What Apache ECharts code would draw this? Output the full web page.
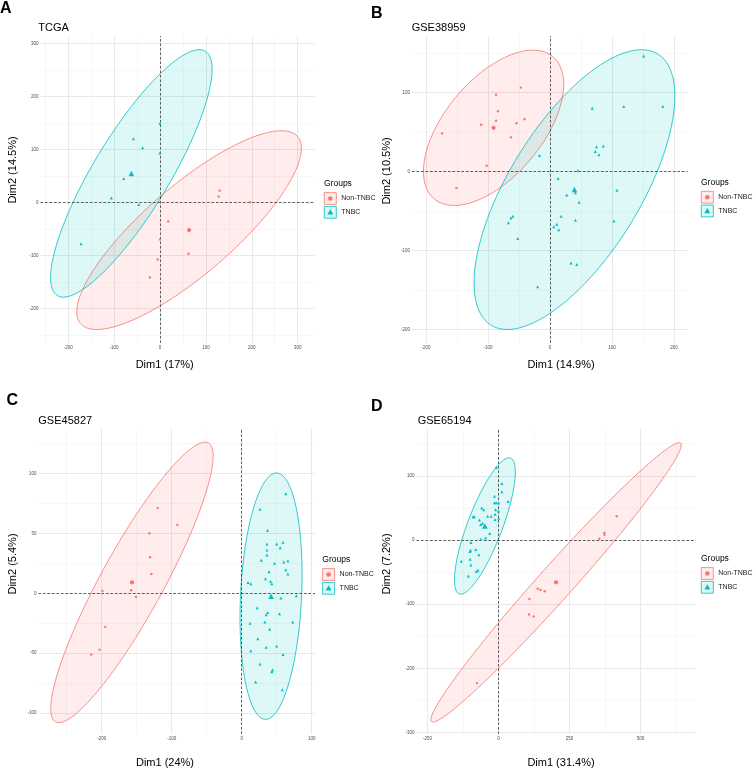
<!DOCTYPE html>
<html>
<head>
<meta charset="utf-8">
<script src="https://cdn.jsdelivr.net/npm/echarts@6/dist/echarts.min.js"></script>
<style>html,body{margin:0;padding:0;background:#fff}#chart{width:753px;height:770px}</style>
</head>
<body>
<div id="chart"></div>
<script>
// ---------------- DATA ----------------
const groupNames = ['Non-TNBC', 'TNBC'];
const panelLetters = ['A', 'B', 'C', 'D'];
const datasetTitles = ['TCGA', 'GSE38959', 'GSE45827', 'GSE65194'];
const dim1Names = ['Dim1 (17%)', 'Dim1 (14.9%)', 'Dim1 (24%)', 'Dim1 (31.4%)'];
const dim2Names = ['Dim2 (14.5%)', 'Dim2 (10.5%)', 'Dim2 (5.4%)', 'Dim2 (7.2%)'];

// TCGA
const tcgaNonTNBC = [[130,22],[128,11],[196,0],[18,-36],[0,-70],[62,-97],[-5,-108],[-22,-142]];
const tcgaTNBC = [[0,149],[-58,120],[-38,103],[0,93],[-79,45],[-106,8],[-46,-4],[-172,-78]];
const tcgaXTicks = [-200,-100,0,100,200,300];
const tcgaYTicks = [-200,-100,0,100,200,300];

// GSE38959
const gse38959NonTNBC = [[-47,106],[-87,97],[-84,76],[-41,66],[-87,64],[-111,59],[-54,61],[-174,48],[-63,43],[-102,7],[-151,-21],[-91,55]];
const gse38959TNBC = [[151,146],[68,80],[119,82],[182,82],[86,32],[75,31],[73,25],[79,21],[-17,20],[45,1],[13,-9],[41,-27],[108,-24],[27,-30],[47,-39],[18,-57],[41,-62],[103,-63],[-60,-57],[-63,-59],[-67,-65],[11,-67],[6,-70],[14,-74],[-52,-85],[34,-116],[43,-118],[-20,-146]];
const gse38959XTicks = [-200,-100,0,100,200];
const gse38959YTicks = [-200,-100,0,100];

// GSE45827
const gse45827NonTNBC = [[-120,71],[-92,57],[-132,50],[-131,30],[-129,16],[-199,2],[-158,2.5],[-151,-3],[-195,-28],[-203,-47],[-215,-51]];
const gse45827TNBC = [[63,83],[26,70],[37,52.5],[36,41],[50,41],[59,42.5],[55,38],[36,36],[36,32],[28,27.5],[47,25],[60,26],[66,27],[63,19.5],[66,16],[39,18],[34,12],[41,10],[43,8],[9,9],[13,8],[78,-2],[56,-4],[22,-12],[37,-16],[35,-18],[54,-17],[73,-24],[12,-25],[33,-24],[40,-30],[23,-38],[35,-45],[50,-44],[13,-48],[59,-51],[26,-59],[44,-64],[43,-65.5],[20,-74],[58,-80.5]];
const gse45827XTicks = [-200,-100,0,100];
const gse45827YTicks = [-100,-50,0,50,100];

// GSE65194
const gse65194NonTNBC = [[416,37],[373,11],[373,8],[355,2],[138,-76],[148,-78],[163,-80],[109,-92],[108,-116],[124,-119],[-76,-223]];
const gse65194TNBC = [[-8,113],[12,88],[12,75],[34,60],[-14,68],[-14,58],[-8,58],[0,58],[-59,50],[-52,47],[-10,47],[0,45],[-12,40],[-90,36],[-85,36],[-38,37],[-26,37],[1,34],[-67,31],[-12,32],[-56,26],[-63,24],[-31,10],[-45,3],[-63,1],[-97,-4],[-80,-15],[-98,-16],[-101,-18],[-69,-23],[-100,-30],[-131,-33],[-97,-39],[-72,-47],[-78,-49],[-106,-56]];
const gse65194XTicks = [-250,0,250,500];
const gse65194YTicks = [-300,-200,-100,0,100];

// ---------------- LAYOUT / STYLE ----------------
const RED = '#F8766D', TEAL = '#00BFC4';
const RED_FILL = 'rgba(248,118,109,0.13)', TEAL_FILL = 'rgba(0,191,196,0.13)';
const FONT = '"Liberation Sans", Arial, Helvetica, sans-serif';
const ELLIPSE_LEVEL = 0.95;

const panels = [
  {non: tcgaNonTNBC, tnbc: tcgaTNBC, xTicks: tcgaXTicks, yTicks: tcgaYTicks,
   xRange: [-260.3, 337.7], yRange: [-265.5, 313.8],
   grid: {left: 40.5, top: 36, width: 274.5, height: 307},
   letterPos: [0, 8.5], titlePos: [38.3, 27.5], xNamePos: [164.7, 365], yNamePos: [13.3, 170], legendPos: [324, 184]},
  {non: gse38959NonTNBC, tnbc: gse38959TNBC, xTicks: gse38959XTicks, yTicks: gse38959YTicks,
   xRange: [-222.6, 222.1], yRange: [-217.3, 171.3],
   grid: {left: 412, top: 36, width: 275.7, height: 307},
   letterPos: [371, 14], titlePos: [411.7, 27.5], xNamePos: [561, 365], yNamePos: [386.5, 171], legendPos: [701, 182.7]},
  {non: gse45827NonTNBC, tnbc: gse45827TNBC, xTicks: gse45827XTicks, yTicks: gse45827YTicks,
   xRange: [-290.3, 104.7], yRange: [-117.3, 137.5],
   grid: {left: 38.5, top: 428.3, width: 276.5, height: 305.7},
   letterPos: [6.5, 401], titlePos: [38.3, 420.8], xNamePos: [165, 763], yNamePos: [13.3, 564], legendPos: [322.3, 560]},
  {non: gse65194NonTNBC, tnbc: gse65194TNBC, xTicks: gse65194XTicks, yTicks: gse65194YTicks,
   xRange: [-288.7, 693], yRange: [-302.3, 174],
   grid: {left: 416.5, top: 428.3, width: 278.8, height: 305.7},
   letterPos: [371, 406.5], titlePos: [417.7, 420.8], xNamePos: [561, 763], yNamePos: [386.5, 564], legendPos: [701, 559]}
];

// ---------------- HELPERS ----------------
function meanPoint(pts) {
  let sx = 0, sy = 0;
  pts.forEach(p => { sx += p[0]; sy += p[1]; });
  return [sx / pts.length, sy / pts.length];
}
// F quantile with 2 numerator df (closed form)
function qf2(p, d) { return d / 2 * (Math.pow(1 - p, -2 / d) - 1); }
// normal-data ellipse as in ggplot2 stat_ellipse(type = "norm")
function dataEllipse(pts, level) {
  const n = pts.length;
  const c = meanPoint(pts);
  let sxx = 0, syy = 0, sxy = 0;
  pts.forEach(p => {
    const dx = p[0] - c[0], dy = p[1] - c[1];
    sxx += dx * dx; syy += dy * dy; sxy += dx * dy;
  });
  sxx /= (n - 1); syy /= (n - 1); sxy /= (n - 1);
  const a = Math.sqrt(sxx), b = sxy / a, cc = Math.sqrt(Math.max(syy - b * b, 0));
  const r = Math.sqrt(2 * qf2(level, n - 1));
  const out = [];
  const seg = 120;
  for (let i = 0; i <= seg; i++) {
    const t = 2 * Math.PI * i / seg;
    const u = Math.cos(t), v = Math.sin(t);
    out.push([c[0] + r * u * a, c[1] + r * (u * b + v * cc)]);
  }
  return out;
}
function minorLines(ticks, range) {
  const step = ticks[1] - ticks[0];
  const out = [];
  const vals = [ticks[0] - step / 2];
  for (let i = 0; i < ticks.length - 1; i++) vals.push((ticks[i] + ticks[i + 1]) / 2);
  vals.push(ticks[ticks.length - 1] + step / 2);
  vals.forEach(v => { if (v >= range[0] && v <= range[1]) out.push(v); });
  return out;
}

// ---------------- BUILD OPTION ----------------
const grids = [], xAxes = [], yAxes = [], series = [], graphics = [];

panels.forEach((P, i) => {
  grids.push({left: P.grid.left, top: P.grid.top, width: P.grid.width, height: P.grid.height, containLabel: false, show: false});
  const axisCommon = {
    type: 'value', gridIndex: i,
    splitLine: {show: false},
    axisLine: {show: false},
    minorTick: {show: false},
  };
  xAxes.push(Object.assign({}, axisCommon, {
    min: P.xRange[0], max: P.xRange[1],
    axisTick: {show: true, length: 1.5, lineStyle: {color: '#333', width: 0.5}, customValues: P.xTicks},
    axisLabel: {show: true, customValues: P.xTicks, fontSize: 4.5, color: '#4d4d4d', margin: 2, fontFamily: FONT}
  }));
  yAxes.push(Object.assign({}, axisCommon, {
    min: P.yRange[0], max: P.yRange[1],
    axisTick: {show: true, length: 1.5, lineStyle: {color: '#333', width: 0.5}, customValues: P.yTicks},
    axisLabel: {show: true, customValues: P.yTicks, fontSize: 4.5, color: '#4d4d4d', margin: 2, fontFamily: FONT}
  }));

  // gridlines (major + minor) via markLine in data coordinates
  const gl = [];
  minorLines(P.xTicks, P.xRange).forEach(v => gl.push({xAxis: v, lineStyle: {color: '#F2F2F2', width: 0.6, type: 'solid'}}));
  minorLines(P.yTicks, P.yRange).forEach(v => gl.push({yAxis: v, lineStyle: {color: '#F2F2F2', width: 0.6, type: 'solid'}}));
  P.xTicks.forEach(v => gl.push({xAxis: v, lineStyle: {color: '#E6E6E6', width: 0.9, type: 'solid'}}));
  P.yTicks.forEach(v => gl.push({yAxis: v, lineStyle: {color: '#E6E6E6', width: 0.9, type: 'solid'}}));
  series.push({
    type: 'line', xAxisIndex: i, yAxisIndex: i, data: [], silent: true, z: 1,
    markLine: {silent: true, symbol: ['none', 'none'], z: 1, animation: false,
      label: {show: false}, emphasis: {disabled: true},
      lineStyle: {type: 'solid'}, data: gl}
  });

  // ellipses
  const groupsData = [
    {pts: P.non, color: RED, fill: RED_FILL, symbol: 'circle', size: 2.4, csize: 4.2, name: groupNames[0]},
    {pts: P.tnbc, color: TEAL, fill: TEAL_FILL, symbol: 'triangle', size: 3, csize: 5.5, name: groupNames[1]}
  ];
  groupsData.forEach((g, gi) => {
    const ell = dataEllipse(g.pts, ELLIPSE_LEVEL);
    series.push({
      type: 'custom', name: g.name, xAxisIndex: i, yAxisIndex: i, z: 2 + gi * 0.1, silent: true, clip: true,
      data: [meanPoint(g.pts)],
      renderItem: function (params, api) {
        return {
          type: 'polygon',
          shape: {points: ell.map(p => api.coord(p))},
          style: {fill: g.fill, stroke: g.color, lineWidth: 0.8}
        };
      }
    });
  });

  // zero dashed lines
  series.push({
    type: 'line', xAxisIndex: i, yAxisIndex: i, data: [], silent: true, z: 3,
    markLine: {silent: true, symbol: ['none', 'none'], z: 3, animation: false,
      label: {show: false}, emphasis: {disabled: true},
      lineStyle: {color: '#222', width: 0.7, type: [2.5, 2]},
      data: [{xAxis: 0}, {yAxis: 0}]}
  });

  // points + group means
  groupsData.forEach(g => {
    series.push({
      type: 'scatter', name: g.name, xAxisIndex: i, yAxisIndex: i, z: 4, silent: true,
      symbol: g.symbol, symbolSize: g.size, itemStyle: {color: g.color, opacity: 1},
      data: g.pts
    });
    series.push({
      type: 'scatter', name: g.name, xAxisIndex: i, yAxisIndex: i, z: 5, silent: true,
      symbol: g.symbol, symbolSize: g.csize, itemStyle: {color: g.color, opacity: 1},
      data: [meanPoint(g.pts)]
    });
  });

  // texts
  graphics.push({type: 'text', x: P.letterPos[0], y: P.letterPos[1],
    style: {text: panelLetters[i], font: 'bold 16px ' + FONT, fill: '#000', align: 'left', verticalAlign: 'middle'}});
  graphics.push({type: 'text', x: P.titlePos[0], y: P.titlePos[1],
    style: {text: datasetTitles[i], font: '11px ' + FONT, fill: '#000', align: 'left', verticalAlign: 'middle'}});
  graphics.push({type: 'text', x: P.xNamePos[0], y: P.xNamePos[1],
    style: {text: dim1Names[i], font: '11px ' + FONT, fill: '#000', align: 'center', verticalAlign: 'middle'}});
  graphics.push({type: 'text', x: P.yNamePos[0], y: P.yNamePos[1], rotation: Math.PI / 2,
    style: {text: dim2Names[i], font: '11px ' + FONT, fill: '#000', align: 'center', verticalAlign: 'middle'}});

  // legend
  const lx = P.legendPos[0], ly = P.legendPos[1];
  graphics.push({type: 'text', x: lx, y: ly,
    style: {text: 'Groups', font: '8.5px ' + FONT, fill: '#000', align: 'left', verticalAlign: 'middle'}});
  const boxes = [
    {y: ly + 8.6, stroke: RED, fill: RED_FILL, name: groupNames[0], kind: 'circle'},
    {y: ly + 22.4, stroke: TEAL, fill: TEAL_FILL, name: groupNames[1], kind: 'triangle'}
  ];
  boxes.forEach(b => {
    graphics.push({type: 'rect', shape: {x: lx + 0.3, y: b.y, width: 12, height: 11.8},
      style: {fill: b.fill, stroke: b.stroke, lineWidth: 0.8}});
    const cx = lx + 6.3, cy = b.y + 5.9;
    if (b.kind === 'circle') {
      graphics.push({type: 'circle', shape: {cx: cx, cy: cy, r: 2.3}, style: {fill: RED}});
    } else {
      graphics.push({type: 'polygon', shape: {points: [[cx, cy - 3], [cx + 3, cy + 2.2], [cx - 3, cy + 2.2]]}, style: {fill: TEAL}});
    }
    graphics.push({type: 'text', x: lx + 17.3, y: cy,
      style: {text: b.name, font: '7px ' + FONT, fill: '#1a1a1a', align: 'left', verticalAlign: 'middle'}});
  });
});

const chart = echarts.init(document.getElementById('chart'), null, {renderer: 'canvas'});
chart.setOption({
  backgroundColor: '#ffffff',
  animation: false,
  grid: grids,
  xAxis: xAxes,
  yAxis: yAxes,
  series: series,
  graphic: {elements: graphics},
  tooltip: {show: false}
});
</script>
</body>
</html>
